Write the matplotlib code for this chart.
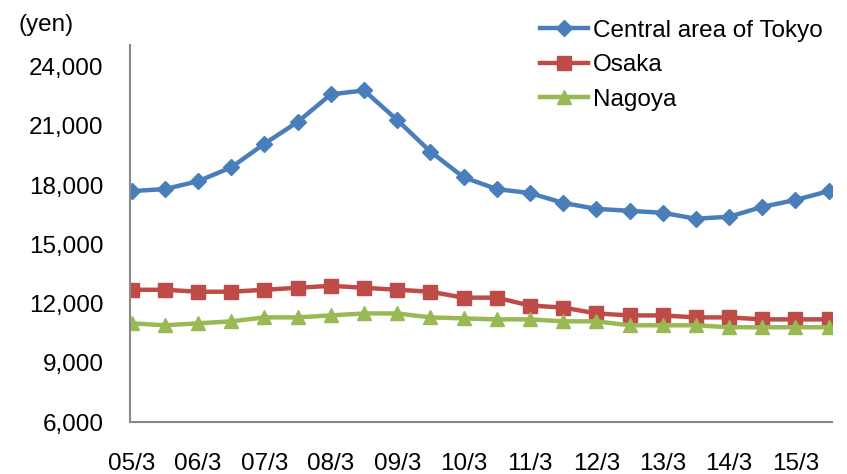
import matplotlib
matplotlib.use('Agg')
import matplotlib.pyplot as plt

plt.rcParams['font.family'] = ['Liberation Sans', 'DejaVu Sans']

# half-year points, 05/3 .. 15/9
periods = ['05/3', '05/9', '06/3', '06/9', '07/3', '07/9', '08/3', '08/9',
           '09/3', '09/9', '10/3', '10/9', '11/3', '11/9', '12/3', '12/9',
           '13/3', '13/9', '14/3', '14/9', '15/3', '15/9']
tokyo = [17700, 17800, 18200, 18900, 20100, 21200, 22600, 22800, 21300, 19700, 18400,
         17800, 17600, 17100, 16800, 16700, 16600, 16300, 16400, 16900, 17250, 17700]
osaka = [12700, 12700, 12600, 12600, 12700, 12800, 12900, 12800, 12700, 12600, 12300,
         12300, 11900, 11800, 11500, 11400, 11400, 11300, 11300, 11200, 11200, 11200]
nagoya = [11000, 10900, 11000, 11100, 11300, 11300, 11400, 11500, 11500, 11300, 11250,
          11200, 11200, 11100, 11100, 10900, 10900, 10900, 10800, 10800, 10800, 10800]
yticks = [6000, 9000, 12000, 15000, 18000, 21000, 24000]

x = list(range(len(periods)))
fs = 17.5

fig = plt.figure(figsize=(8.47, 4.74), dpi=100)
ax = fig.add_axes([0.1535, 0.1097, 0.8288, 0.7953])

ax.plot(x, tokyo, color='#4A7EBB', lw=3.2, marker='D', ms=8.5, label='Central area of Tokyo')
ax.plot(x, osaka, color='#BE4B48', lw=3.2, marker='s', ms=10, label='Osaka')
ax.plot(x, nagoya, color='#98B954', lw=3.2, marker='^', ms=10, label='Nagoya')

ax.set_xlim(-0.05, 21.1)
ax.set_ylim(6000, 25100)
ax.set_yticks(yticks)
ax.set_yticklabels(['{:,}'.format(v) for v in yticks])
ax.set_xticks(x[::2])
ax.set_xticklabels(periods[::2])
ax.tick_params(length=0, labelsize=fs)
ax.tick_params(axis='y', pad=19)
ax.tick_params(axis='x', pad=22)

for s in ['top', 'right']:
    ax.spines[s].set_visible(False)
for s in ['left', 'bottom']:
    ax.spines[s].set_color('#898989')
    ax.spines[s].set_linewidth(1.5)

fig.text(0.022, 0.947, '(yen)', fontsize=fs, va='center')

fig.legend(loc='upper left', bbox_to_anchor=(530 / 847, 1 - 10 / 474), frameon=False,
           fontsize=fs, borderaxespad=0, handlelength=2.0, handletextpad=0.2,
           labelspacing=0.51)

fig.savefig('out.png', dpi=100)
